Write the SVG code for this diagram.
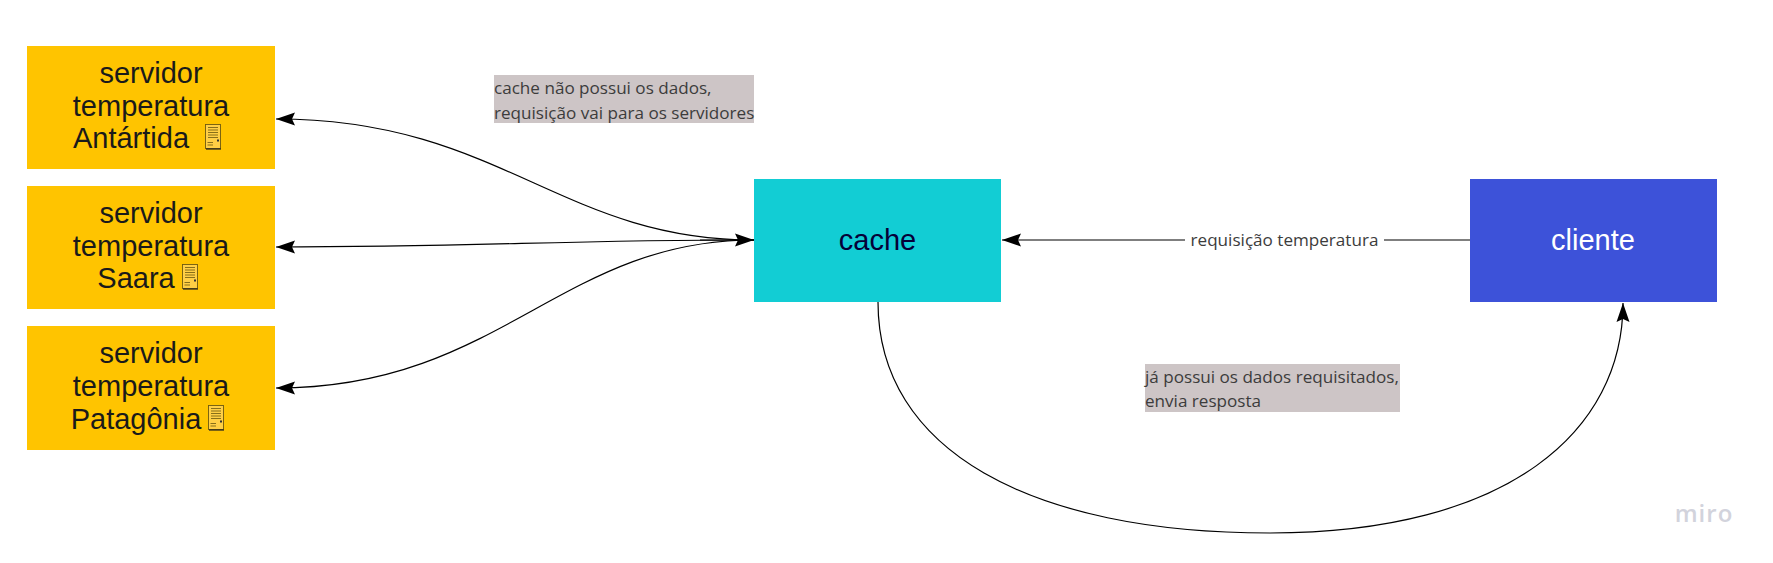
<svg xmlns="http://www.w3.org/2000/svg" width="1773" height="563" viewBox="0 0 1773 563">
<style>
.srv{fill:#ffc400}
.big{font-family:"Liberation Sans",Arial,sans-serif;font-size:29px;fill:#1a1a1a;text-anchor:middle}
.note{font-family:"Open Sans",sans-serif;font-size:17.100px;fill:#3c3c3c}
.bg{fill:#cdc5c6}
.c{fill:none;stroke:#000;stroke-width:1.2}
</style>
<defs>
<marker id="a" viewBox="0 0 20 14" refX="19" refY="7" markerWidth="20" markerHeight="14" markerUnits="userSpaceOnUse" orient="auto"><path d="M0 .5L19 7L0 13.500L3 7Z" fill="#000"/></marker>
<symbol id="pc" viewBox="0 0 17 26" overflow="visible">
<rect x=".5" y=".5" width="15" height="24" fill="#ffcf45" stroke="#6e5a10" stroke-width=".9"/>
<path d="M3 3.500H13M3 6H13M3 8.500H13M3 11H13M3 13.500H13" stroke="#7a6414" stroke-width=".9" fill="none"/>
<path d="M2.500 18.500H8M2.500 21H8" stroke="#7a6414" stroke-width=".9" fill="none"/>
<rect x="12" y="15.500" width="2" height="2" fill="#333"/>
<path d="M1 25H16" stroke="#222" stroke-width="1.2"/>
</symbol>
</defs>
<rect width="1773" height="563" fill="#fff"/>
<g id="connectors">
<path class="c" d="M754 240C560 240 500 119 276 119" marker-end="url(#a)"/>
<path class="c" d="M754 240C560 240 480 247 276 247" marker-end="url(#a)"/>
<path class="c" d="M754 240C560 240 500 388 276 388" marker-end="url(#a)"/>
<path class="c" d="M700 240H754" marker-end="url(#a)"/>
<path class="c" d="M1470 240H1002" marker-end="url(#a)"/>
<path class="c" d="M878 302C878 450 1030 533 1270 533C1510 533 1623 430 1623 303" marker-end="url(#a)"/>
</g>
<g id="server-antartida"><rect class="srv" x="27" y="46" width="248" height="123"/>
<text class="big"><tspan x="151" y="83">servidor</tspan><tspan x="151" y="116">temperatura</tspan><tspan x="131" y="148">Antártida</tspan></text>
<use href="#pc" x="205" y="124" width="17" height="26"/></g>
<g id="server-saara"><rect class="srv" x="27" y="186" width="248" height="123"/>
<text class="big"><tspan x="151" y="223">servidor</tspan><tspan x="151" y="256">temperatura</tspan><tspan x="136" y="288">Saara</tspan></text>
<use href="#pc" x="182" y="264" width="17" height="26"/></g>
<g id="server-patagonia"><rect class="srv" x="27" y="326" width="248" height="124"/>
<text class="big"><tspan x="151" y="363">servidor</tspan><tspan x="151" y="396">temperatura</tspan><tspan x="136" y="429">Patagônia</tspan></text>
<use href="#pc" x="208" y="405" width="17" height="26"/></g>
<g id="cache"><rect x="754" y="179" width="247" height="123" fill="#12cdd4"/>
<text class="big" x="877.500" y="250" style="fill:#050038">cache</text></g>
<g id="cliente"><rect x="1470" y="179" width="247" height="123" fill="#3d52d9"/>
<text class="big" x="1593" y="250" style="fill:#fff">cliente</text></g>
<g id="label-requisicao"><rect x="1185" y="228" width="199" height="24" fill="#fff"/>
<text class="note" x="1284.500" y="245.500" text-anchor="middle">requisição temperatura</text></g>
<g id="note-cache"><rect class="bg" x="494" y="75" width="260" height="48"/>
<text class="note"><tspan x="494" y="94">cache não possui os dados,</tspan><tspan x="494" y="119">requisição vai para os servidores</tspan></text></g>
<g id="note-resposta"><rect class="bg" x="1145" y="364" width="255" height="48"/>
<text class="note"><tspan x="1145" y="383">já possui os dados requisitados,</tspan><tspan x="1145" y="407">envia resposta</tspan></text></g>
<text id="miro" x="1704" y="522" text-anchor="middle" font-family="'Open Sans',sans-serif" font-size="24" font-weight="600" letter-spacing="1" fill="#d2d3dc">miro</text>
</svg>
